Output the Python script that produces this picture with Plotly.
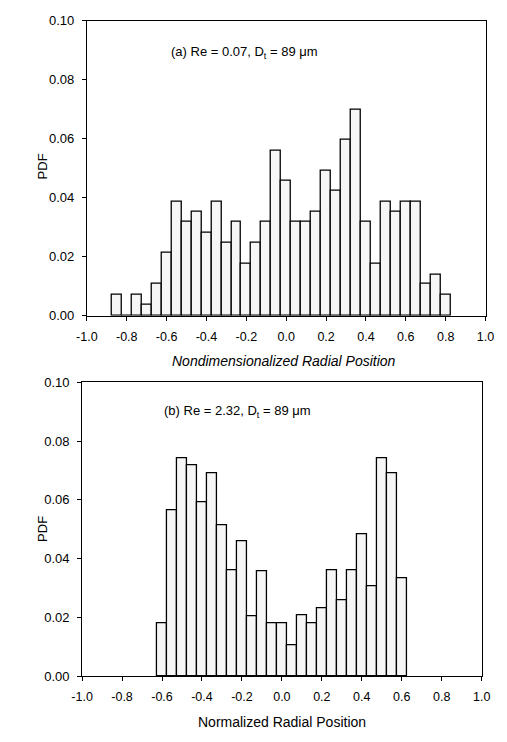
import plotly.graph_objects as go

# Bin centres (bin width 0.05)
x_a = [-0.85, -0.80, -0.75, -0.70, -0.65, -0.60, -0.55, -0.50, -0.45, -0.40,
       -0.35, -0.30, -0.25, -0.20, -0.15, -0.10, -0.05, 0.00, 0.05, 0.10,
       0.15, 0.20, 0.25, 0.30, 0.35, 0.40, 0.45, 0.50, 0.55, 0.60,
       0.65, 0.70, 0.75, 0.80]
pdf_a = [0.0071, 0.0, 0.0071, 0.0037, 0.0107, 0.0213, 0.0387, 0.0318, 0.0352, 0.0282,
         0.0387, 0.0247, 0.0318, 0.0177, 0.0247, 0.0318, 0.0560, 0.0456, 0.0318, 0.0318,
         0.0352, 0.0493, 0.0423, 0.0596, 0.0698, 0.0318, 0.0176, 0.0387, 0.0352, 0.0387,
         0.0387, 0.0107, 0.0140, 0.0071]

x_b = [-0.60, -0.55, -0.50, -0.45, -0.40, -0.35, -0.30, -0.25, -0.20, -0.15,
       -0.10, -0.05, 0.00, 0.05, 0.10, 0.15, 0.20, 0.25, 0.30, 0.35,
       0.40, 0.45, 0.50, 0.55, 0.60]
pdf_b = [0.0180, 0.0566, 0.0742, 0.0716, 0.0592, 0.0691, 0.0515, 0.0359, 0.0459, 0.0205,
         0.0358, 0.0180, 0.0180, 0.0104, 0.0207, 0.0180, 0.0230, 0.0359, 0.0257, 0.0359,
         0.0484, 0.0307, 0.0740, 0.0692, 0.0332]

x_ticks = [-1.0, -0.8, -0.6, -0.4, -0.2, 0.0, 0.2, 0.4, 0.6, 0.8, 1.0]
x_tick_labels = ["-1.0", "-0.8", "-0.6", "-0.4", "-0.2", "0.0", "0.2", "0.4", "0.6", "0.8", "1.0"]
y_ticks = [0.0, 0.02, 0.04, 0.06, 0.08, 0.10]
y_tick_labels = ["0.00", "0.02", "0.04", "0.06", "0.08", "0.10"]

FONT = "Liberation Sans, Arial, sans-serif"
bar_style = dict(marker=dict(color="#f6f6f6", line=dict(color="black", width=1.3)),
                 width=0.05, showlegend=False, hoverinfo="skip")

fig = go.Figure()
fig.add_trace(go.Bar(x=x_a, y=pdf_a, xaxis="x", yaxis="y", **bar_style))
fig.add_trace(go.Bar(x=x_b, y=pdf_b, xaxis="x2", yaxis="y2", **bar_style))

W, H = 507, 742
def px_x(p):
    return p / W
def px_y(p):
    return 1 - p / H

xcommon = dict(range=[-1.0, 1.0], tickvals=x_ticks, ticktext=x_tick_labels,
               showline=True, linecolor="black", linewidth=1, mirror=True,
               ticks="outside", ticklen=4, tickcolor="black", showgrid=False,
               zeroline=False, ticklabelstandoff=5,
               tickfont=dict(family=FONT, size=12.5, color="black"))
ycommon = dict(range=[0, 0.10], tickvals=y_ticks, ticktext=y_tick_labels,
               showline=True, linecolor="black", linewidth=1, mirror=True,
               ticks="outside", ticklen=4, tickcolor="black", showgrid=False,
               zeroline=False, ticklabelstandoff=5,
               tickfont=dict(family=FONT, size=13, color="black"))

fig.update_layout(
    width=W, height=H,
    margin=dict(l=0, r=0, t=0, b=0),
    paper_bgcolor="white", plot_bgcolor="white",
    bargap=0,
    font=dict(family=FONT, size=12, color="black"),
    xaxis=dict(domain=[px_x(79), px_x(494)], anchor="y", **xcommon),
    yaxis=dict(domain=[px_y(315), px_y(14)], anchor="x", **ycommon),
    xaxis2=dict(domain=[px_x(74), px_x(490)], anchor="y2", **xcommon),
    yaxis2=dict(domain=[px_y(683), px_y(383)], anchor="x2", **ycommon),
    annotations=[
        dict(text="(a) Re = 0.07, D<sub>t</sub> = 89 μm", x=px_x(165), y=px_y(46),
             xref="paper", yref="paper", xanchor="left", yanchor="middle",
             showarrow=False, font=dict(family=FONT, size=13)),
        dict(text="(b) Re = 2.32, D<sub>t</sub> = 89 μm", x=px_x(157), y=px_y(413),
             xref="paper", yref="paper", xanchor="left", yanchor="middle",
             showarrow=False, font=dict(family=FONT, size=13)),
        dict(text="<i>Nondimensionalized Radial Position</i>", x=px_x(284), y=px_y(361),
             xref="paper", yref="paper", xanchor="center", yanchor="middle",
             showarrow=False, font=dict(family=FONT, size=14)),
        dict(text="Normalized Radial Position", x=px_x(282), y=px_y(730),
             xref="paper", yref="paper", xanchor="center", yanchor="middle",
             showarrow=False, font=dict(family=FONT, size=14)),
        dict(text="PDF", x=px_x(33), y=px_y(163), textangle=-90,
             xref="paper", yref="paper", xanchor="center", yanchor="middle",
             showarrow=False, font=dict(family=FONT, size=13)),
        dict(text="PDF", x=px_x(33), y=px_y(533), textangle=-90,
             xref="paper", yref="paper", xanchor="center", yanchor="middle",
             showarrow=False, font=dict(family=FONT, size=13)),
    ],
)

fig.write_html("out.html")
